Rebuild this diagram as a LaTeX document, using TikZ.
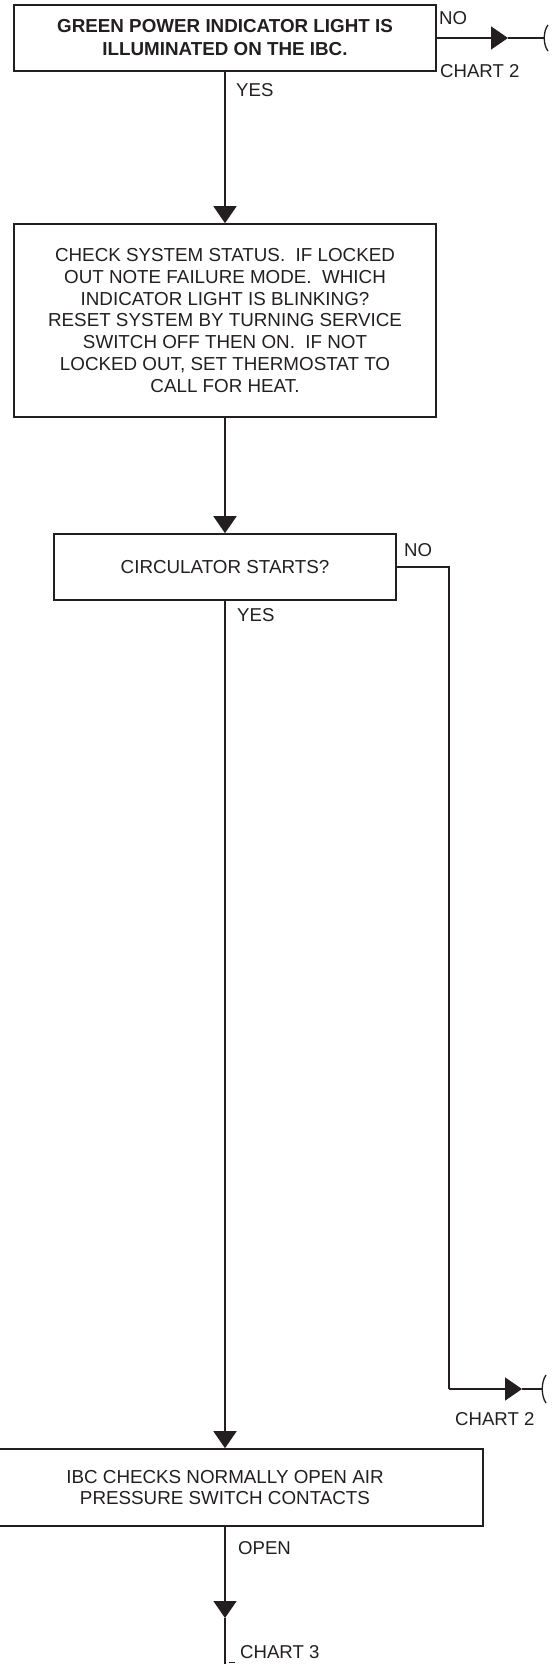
\documentclass[tikz,border=0pt]{standalone}
\usepackage{fontspec}
\setmainfont{Liberation Sans}
\usetikzlibrary{arrows.meta,calc}
\definecolor{ink}{HTML}{231F20}
\tikzset{
  x=1pt, y=-1pt,
  box/.style={draw=ink, line width=1.6pt, rectangle, align=center, inner sep=0pt,
     text=ink, font=\fontsize{18.8}{21.7}\selectfont},
  conn/.style={draw=ink, line width=1.6pt},
  tip/.style={-{Triangle[width=23pt,length=17pt]}},
  lbl/.style={text=ink, font=\fontsize{18.6}{21}\selectfont, inner sep=0pt, anchor=west},
  brace/.style={draw=ink, line width=1.3pt}
}
\begin{document}
\begin{tikzpicture}
\clip (0,0) rectangle (557,1664);
\fill[white] (0,0) rectangle (557,1664);

\node[box, minimum width=422pt, minimum height=66pt, font=\fontsize{18.8}{23}\selectfont\bfseries] (b1) at (225,38)
  {GREEN POWER INDICATOR LIGHT IS\\ILLUMINATED ON THE IBC.};
\node[box, minimum width=422pt, minimum height=193pt] (b2) at (225,320.5)
  {CHECK SYSTEM STATUS.\ \ IF LOCKED\\OUT NOTE FAILURE MODE.\ \ WHICH\\INDICATOR LIGHT IS BLINKING?\\RESET SYSTEM BY TURNING SERVICE\\SWITCH OFF THEN ON.\ \ IF NOT\\LOCKED OUT, SET THERMOSTAT TO\\CALL FOR HEAT.};
\node[box, minimum width=342pt, minimum height=66pt] (b3) at (225,567)
  {CIRCULATOR STARTS?};
\node[box, minimum width=516pt, minimum height=77pt] (b4) at (225,1487.5)
  {IBC CHECKS NORMALLY OPEN AIR\\PRESSURE SWITCH CONTACTS};

% main vertical flow
\draw[conn,tip] (b1.south) -- (b2.north);
\draw[conn,tip] (b2.south) -- (b3.north);
\draw[conn,tip] (b3.south) -- (b4.north);

% top NO branch
\coordinate (a1) at (508,38);
\coordinate (e1) at (545,38);
\draw[conn,tip] (b1.east) -- (a1);
\draw[conn] (a1) -- (e1);
\draw[brace] ($(e1)+(3,-13)$) .. controls ($(e1)+(-2,-7)$) and ($(e1)+(-2,7)$) .. ($(e1)+(3,13)$);

% circulator NO branch
\coordinate (c2) at (449,1389);
\coordinate (a2) at (522,1389);
\coordinate (e2) at (543,1389);
\draw[conn] (b3.east) -| (c2);
\draw[conn,tip] (c2) -- (a2);
\draw[conn] (a2) -- (e2);
\draw[brace] ($(e2)+(3,-14)$) .. controls ($(e2)+(-2,-7)$) and ($(e2)+(-2,7)$) .. ($(e2)+(3,14)$);

% bottom OPEN branch
\coordinate (a3) at (225,1618);
\coordinate (e3) at (225,1664);
\draw[conn,tip] (b4.south) -- (a3);
\draw[conn] (a3) -- (e3);
\draw[draw=ink, line width=1pt] (229,1662) -- (235,1662);

% labels
\node[lbl] (l1) at (439,18) {NO};
\node[lbl] (l2) at (440,71) {CHART 2};
\node[lbl] (l3) at (236,90) {YES};
\node[lbl] (l4) at (404,550) {NO};
\node[lbl] (l5) at (237,615) {YES};
\node[lbl] (l6) at (455,1419) {CHART 2};
\node[lbl] (l7) at (238,1548) {OPEN};
\node[lbl] (l8) at (240,1652) {CHART 3};
\end{tikzpicture}
\end{document}
